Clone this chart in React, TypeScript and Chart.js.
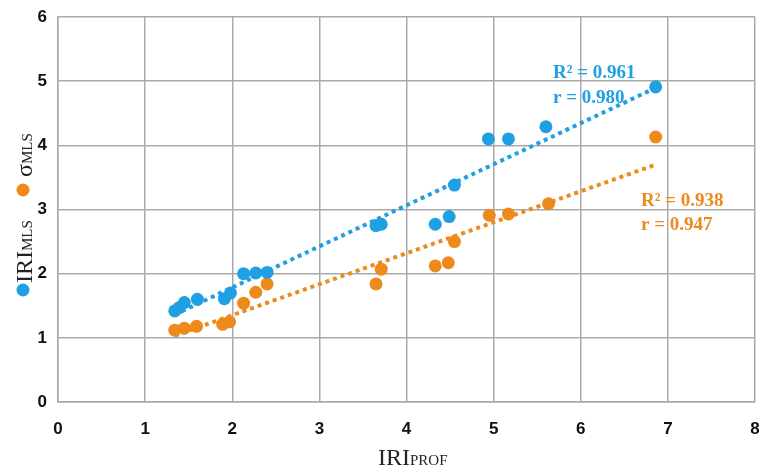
import React, { useEffect, useRef } from "react";
import { Chart, registerables } from "chart.js";

Chart.register(...registerables);

const BLUE = "#1ea0e2";
const ORANGE = "#ee8a1c";
const GRID = "#a9a9a9";

const xTicks = [0, 1, 2, 3, 4, 5, 6, 7, 8];
const yTicks = [0, 1, 2, 3, 4, 5, 6];

const iriProf = [1.34, 1.39, 1.45, 1.6, 1.91, 1.98, 2.13, 2.27, 2.4, 3.65, 3.71, 4.33, 4.49, 4.55, 4.94, 5.17, 5.6, 6.86];
const iriMls = [1.42, 1.47, 1.55, 1.6, 1.61, 1.7, 2.0, 2.01, 2.02, 2.75, 2.77, 2.77, 2.89, 3.38, 4.1, 4.1, 4.29, 4.91];

const sigmaProf = [1.34, 1.45, 1.59, 1.89, 1.97, 2.13, 2.27, 2.4, 3.65, 3.71, 4.33, 4.48, 4.55, 4.95, 5.17, 5.63, 6.86];
const sigmaMls = [1.12, 1.15, 1.18, 1.21, 1.25, 1.54, 1.71, 1.84, 1.84, 2.07, 2.12, 2.17, 2.5, 2.91, 2.93, 3.09, 4.13];

const blueStats = ["R² = 0.961", "r = 0.980"];
const orangeStats = ["R² = 0.938", "r = 0.947"];

function fitLine(xs: number[], ys: number[]) {
  const n = xs.length;
  const mx = xs.reduce((a, b) => a + b, 0) / n;
  const my = ys.reduce((a, b) => a + b, 0) / n;
  let sxy = 0;
  let sxx = 0;
  for (let i = 0; i < n; i++) {
    sxy += (xs[i] - mx) * (ys[i] - my);
    sxx += (xs[i] - mx) * (xs[i] - mx);
  }
  const k = sxy / sxx;
  const b = my - k * mx;
  const x0 = Math.min(...xs);
  const x1 = Math.max(...xs);
  return [
    { x: x0, y: k * x0 + b },
    { x: x1, y: k * x1 + b },
  ];
}

const titlesPlugin = {
  id: "titles",
  afterDraw(chart: any) {
    const ctx = chart.ctx;
    const big = '24px "Liberation Serif"';
    const small = '15px "Liberation Serif"';
    ctx.save();
    ctx.fillStyle = "#222";
    ctx.textBaseline = "alphabetic";
    ctx.textAlign = "left";
    // x title
    ctx.font = big;
    let x = 378;
    ctx.fillText("IRI", x, 465);
    x += ctx.measureText("IRI").width;
    ctx.font = small;
    ctx.fillText("PROF", x, 465);

    // y title (rotated)
    ctx.save();
    ctx.rotate(-Math.PI / 2);
    const v = 32;
    ctx.font = big;
    let u = -283;
    ctx.fillText("IRI", u, v);
    u += ctx.measureText("IRI").width;
    ctx.font = small;
    ctx.fillText("MLS", u, v);
    ctx.font = big;
    u = -177;
    ctx.fillText("σ", u, v);
    u += ctx.measureText("σ").width;
    ctx.font = small;
    ctx.fillText("MLS", u, v);
    ctx.restore();

    // legend dots
    ctx.fillStyle = BLUE;
    ctx.beginPath();
    ctx.arc(23, 290, 6.5, 0, Math.PI * 2);
    ctx.fill();
    ctx.fillStyle = ORANGE;
    ctx.beginPath();
    ctx.arc(23, 190, 6.5, 0, Math.PI * 2);
    ctx.fill();

    // stats annotations
    ctx.font = 'bold 19px "Liberation Serif"';
    ctx.fillStyle = BLUE;
    ctx.fillText(blueStats[0], 553, 78);
    ctx.fillText(blueStats[1], 553, 103);
    ctx.fillStyle = ORANGE;
    ctx.fillText(orangeStats[0], 641, 206);
    ctx.fillText(orangeStats[1], 641, 230);
    ctx.restore();
  },
};

export default function App() {
  const ref = useRef<HTMLCanvasElement | null>(null);

  useEffect(() => {
    if (!ref.current) return;
    const bluePts = iriProf.map((x, i) => ({ x, y: iriMls[i] }));
    const orangePts = sigmaProf.map((x, i) => ({ x, y: sigmaMls[i] }));
    const tickFont = { family: '"Liberation Sans", Arial', size: 17, weight: "bold" as const };
    const chart = new Chart(ref.current, {
      type: "scatter",
      data: {
        datasets: [
          {
            label: "IRI MLS trend",
            data: fitLine(iriProf, iriMls),
            showLine: true,
            borderColor: BLUE,
            borderWidth: 4,
            borderDash: [4, 4],
            pointRadius: 0,
            order: 0,
          },
          {
            label: "σ MLS trend",
            data: fitLine(sigmaProf, sigmaMls),
            showLine: true,
            borderColor: ORANGE,
            borderWidth: 4,
            borderDash: [4, 4],
            pointRadius: 0,
            order: 1,
          },
          {
            label: "IRI MLS",
            data: bluePts,
            backgroundColor: BLUE,
            borderColor: BLUE,
            pointRadius: 6.5,
            borderWidth: 0,
            order: 2,
          },
          {
            label: "σ MLS",
            data: orangePts,
            backgroundColor: ORANGE,
            borderColor: ORANGE,
            pointRadius: 6.5,
            borderWidth: 0,
            order: 3,
          },
        ],
      },
      options: {
        animation: false,
        responsive: true,
        maintainAspectRatio: false,
        layout: { autoPadding: false, padding: { top: 17, right: 4, left: 0, bottom: 0 } },
        plugins: { legend: { display: false }, tooltip: { enabled: false } },
        scales: {
          x: {
            type: "linear",
            min: xTicks[0],
            max: xTicks[xTicks.length - 1],
            afterBuildTicks: (s: any) => {
              s.ticks = xTicks.map((v) => ({ value: v }));
            },
            afterFit: (s: any) => {
              s.height = 67;
              s.paddingLeft = 0;
              s.paddingRight = 0;
            },
            grid: { color: GRID, lineWidth: 1.5, drawTicks: false },
            border: { color: GRID, width: 1.5 },
            ticks: { color: "#111", font: tickFont, padding: 17, maxRotation: 0 },
          },
          y: {
            type: "linear",
            min: yTicks[0],
            max: yTicks[yTicks.length - 1],
            afterBuildTicks: (s: any) => {
              s.ticks = yTicks.map((v) => ({ value: v }));
            },
            afterFit: (s: any) => {
              s.width = 58;
              s.paddingTop = 0;
              s.paddingBottom = 0;
            },
            grid: { color: GRID, lineWidth: 1.5, drawTicks: false },
            border: { color: GRID, width: 1.5 },
            ticks: { color: "#111", font: tickFont, padding: 11 },
          },
        },
      },
      plugins: [titlesPlugin],
    });
    return () => chart.destroy();
  }, []);

  return (
    <div style={{ position: "fixed", left: 0, top: 0, width: 759, height: 469, background: "#fff" }}>
      <canvas ref={ref} />
    </div>
  );
}
